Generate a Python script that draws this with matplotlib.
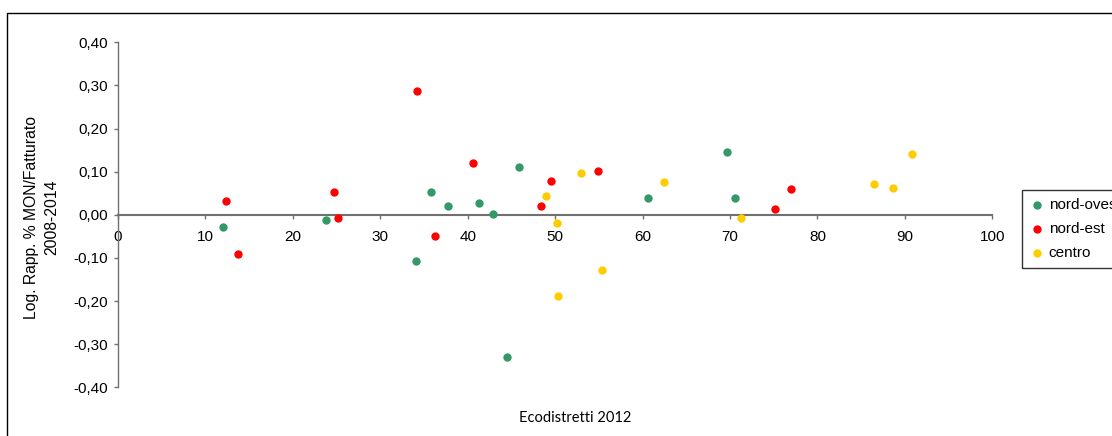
import matplotlib
matplotlib.use("Agg")
import matplotlib.pyplot as plt
from matplotlib.ticker import FuncFormatter, MultipleLocator
from matplotlib.patches import Rectangle

# Ecodistretti 2012 (x) vs Log. Rapp. % MON/Fatturato 2008-2014 (y)
nord_ovest_x = [12.0, 23.8, 34.1, 35.8, 37.7, 41.3, 42.9, 45.9, 44.5, 60.6, 69.6, 70.6]
nord_ovest_y = [-0.028, -0.012, -0.107, 0.053, 0.021, 0.027, 0.002, 0.111, -0.329, 0.040, 0.145, 0.040]

nord_est_x = [12.4, 13.7, 24.7, 25.2, 34.2, 36.3, 40.6, 49.5, 48.4, 54.9, 75.1, 77.0]
nord_est_y = [0.033, -0.092, 0.053, -0.008, 0.286, -0.049, 0.120, 0.078, 0.021, 0.101, 0.014, 0.059]

centro_x = [48.9, 50.2, 50.3, 52.9, 55.4, 62.5, 71.2, 86.5, 88.6, 90.8]
centro_y = [0.044, -0.018, -0.188, 0.097, -0.127, 0.075, -0.008, 0.072, 0.063, 0.142]

series = [
    ("nord-ovest", nord_ovest_x, nord_ovest_y, "#339966"),
    ("nord-est", nord_est_x, nord_est_y, "#FF0000"),
    ("centro", centro_x, centro_y, "#FFCC00"),
]

plt.rcParams["font.family"] = ["Liberation Sans", "DejaVu Sans"]

W, H = 1112, 436
fig = plt.figure(figsize=(W / 100, H / 100), dpi=100)

# outer chart border (cropped on right/bottom like the reference)
fig.patches.append(Rectangle((7 / W, -0.1), 1.2, 1 - 13 / H + 0.1,
                             transform=fig.transFigure, fill=False,
                             edgecolor="black", linewidth=1.0))

ax = fig.add_axes([118 / W, 1 - 387.3 / H, (992.3 - 118) / W, (387.3 - 42.3) / H])

for name, xs, ys, col in series:
    ax.scatter(xs, ys, s=36, color=col, label=name, zorder=3, linewidths=0)

ax.set_xlim(0, 100)
ax.set_ylim(-0.4, 0.4)
ax.xaxis.set_major_locator(MultipleLocator(10))
ax.yaxis.set_major_locator(MultipleLocator(0.1))
ax.yaxis.set_major_formatter(FuncFormatter(lambda v, p: f"{v:.2f}".replace(".", ",").replace("-0,00", "0,00")))
ax.xaxis.set_major_formatter(FuncFormatter(lambda v, p: f"{v:.0f}"))

for s in ["top", "right"]:
    ax.spines[s].set_visible(False)
ax.spines["bottom"].set_position(("data", 0))
ax.spines["bottom"].set_color("#707070")
ax.spines["left"].set_color("#707070")
ax.spines["bottom"].set_linewidth(1.5)
ax.spines["left"].set_linewidth(1.0)

ax.tick_params(axis="x", direction="out", length=3, width=1, color="#707070",
               pad=8, labelsize=11, labelcolor="black")
ax.tick_params(axis="y", direction="out", length=3, width=1, color="#707070",
               pad=4, labelsize=11, labelcolor="black")

fig.text(42 / W, 1 - 217 / H, "Log. Rapp. % MON/Fatturato\n2008-2014", rotation=90,
         ha="center", va="center", multialignment="center", fontsize=11.3, linespacing=1.45)
fig.text(575 / W, 1 - 418 / H, "Ecodistretti 2012", ha="center", va="center",
         fontsize=10.5, family=["Lato", "DejaVu Sans"])

leg = fig.legend(loc="upper left", bbox_to_anchor=(1022 / W, 1 - 190 / H),
                 bbox_transform=fig.transFigure, borderaxespad=0,
                 fontsize=11, frameon=True, fancybox=False, borderpad=0.5,
                 labelspacing=0.68, handlelength=1.0, handletextpad=0.25,
                 markerscale=1.0)
leg.get_frame().set_edgecolor("black")
leg.get_frame().set_linewidth(1.0)

fig.savefig("out.png", dpi=100)
